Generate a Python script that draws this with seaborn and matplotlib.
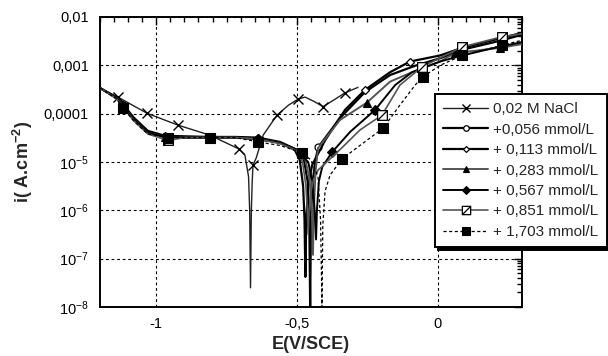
import numpy as np
import pandas as pd
import matplotlib
matplotlib.use("Agg")
import matplotlib.pyplot as plt
from matplotlib.lines import Line2D
from matplotlib.path import Path
from matplotlib.ticker import FixedLocator, MultipleLocator, LogLocator, NullFormatter
import seaborn as sns

# ---------------- data ----------------
labels = ["0,02 M NaCl", "+0,056 mmol/L", "+ 0,113 mmol/L", "+ 0,283 mmol/L",
          "+ 0,567 mmol/L", "+ 0,851 mmol/L", "+ 1,703 mmol/L"]

E_nacl = [-1.20, -1.136, -1.033, -0.923, -0.81, -0.706, -0.685, -0.672, -0.668, -0.665, -0.662,
          -0.659, -0.656, -0.645, -0.62, -0.571, -0.53, -0.496, -0.471, -0.44, -0.407, -0.37,
          -0.329, -0.283]
i_nacl = [3.4e-4, 2.2e-4, 1.02e-4, 5.8e-5, 3.6e-5, 1.86e-5, 1.4e-5, 5.0e-6, 1.0e-6, 2.5e-8, 1.0e-6,
          4.0e-6, 8.7e-6, 1.2e-5, 3.6e-5, 9.3e-5, 1.5e-4, 2.0e-4, 2.2e-4, 1.8e-4, 1.4e-4, 1.9e-4,
          2.7e-4, 3.5e-4]

E_056 = [-1.20, -1.14, -1.12, -1.08, -1.03, -0.97, -0.90, -0.81, -0.72, -0.64, -0.56, -0.50,
         -0.475, -0.462, -0.456, -0.453, -0.450, -0.444, -0.435, -0.425, -0.347, -0.258, -0.169,
         -0.080, 0.009, 0.087, 0.229, 0.30]
i_056 = [3.4e-4, 2.1e-4, 1.5e-4, 7.9e-5, 4.2e-5, 3.4e-5, 3.2e-5, 3.2e-5, 3.2e-5, 3.0e-5, 2.5e-5,
         1.8e-5, 1.1e-5, 4.0e-6, 6.3e-7, 1.0e-8, 7.9e-7, 4.0e-6, 1.0e-5, 2.0e-5, 8.1e-5, 2.8e-4,
         6.3e-4, 9.8e-4, 1.4e-3, 2.1e-3, 3.3e-3, 4.3e-3]

E_113 = [-1.20, -1.14, -1.12, -1.08, -1.03, -0.97, -0.90, -0.81, -0.72, -0.64, -0.56, -0.51,
         -0.49, -0.478, -0.473, -0.470, -0.467, -0.46, -0.446, -0.40, -0.329, -0.258, -0.169,
         -0.098, 0.009, 0.087, 0.229, 0.30]
i_113 = [3.4e-4, 2.1e-4, 1.6e-4, 8.3e-5, 4.4e-5, 3.5e-5, 3.4e-5, 3.3e-5, 3.3e-5, 3.2e-5, 2.6e-5,
         1.9e-5, 1.1e-5, 3.2e-6, 6.3e-7, 4.2e-8, 6.3e-7, 3.2e-6, 8.7e-6, 2.8e-5, 1.2e-4, 3.1e-4,
         7.2e-4, 1.2e-3, 1.6e-3, 2.3e-3, 3.7e-3, 4.7e-3]

E_283 = [-1.20, -1.14, -1.12, -1.08, -1.03, -0.97, -0.90, -0.81, -0.72, -0.64, -0.56, -0.50,
         -0.47, -0.455, -0.447, -0.443, -0.440, -0.434, -0.425, -0.347, -0.251, -0.169, -0.091,
         0.009, 0.062, 0.222, 0.30]
i_283 = [3.4e-4, 2.1e-4, 1.5e-4, 7.6e-5, 4.0e-5, 3.3e-5, 3.2e-5, 3.2e-5, 3.2e-5, 3.0e-5, 2.5e-5,
         1.7e-5, 1.1e-5, 4.5e-6, 1.0e-6, 1.2e-7, 1.0e-6, 6.3e-6, 1.95e-5, 7.4e-5, 1.7e-4, 4.6e-4,
         7.2e-4, 1.2e-3, 1.8e-3, 2.3e-3, 2.75e-3]

E_567 = [-1.20, -1.14, -1.12, -1.08, -1.03, -0.97, -0.90, -0.81, -0.72, -0.64, -0.56, -0.50,
         -0.46, -0.445, -0.437, -0.432, -0.429, -0.422, -0.41, -0.375, -0.311, -0.222, -0.151,
         -0.091, 0.009, 0.087, 0.229, 0.30]
i_567 = [3.4e-4, 2.1e-4, 1.45e-4, 7.6e-5, 4.0e-5, 3.3e-5, 3.2e-5, 3.2e-5, 3.2e-5, 3.0e-5, 2.5e-5,
         1.7e-5, 1.0e-5, 4.0e-6, 1.0e-6, 2.5e-7, 1.0e-6, 4.0e-6, 7.9e-6, 1.6e-5, 4.2e-5, 1.2e-4,
         3.9e-4, 7.2e-4, 1.2e-3, 1.6e-3, 2.5e-3, 3.0e-3]

E_851 = [-1.20, -1.14, -1.12, -1.08, -1.03, -0.958, -0.90, -0.81, -0.72, -0.64, -0.56, -0.50,
         -0.48, -0.468, -0.463, -0.460, -0.457, -0.45, -0.44, -0.425, -0.347, -0.276, -0.198,
         -0.134, -0.055, 0.087, 0.229, 0.30]
i_851 = [3.4e-4, 2.0e-4, 1.4e-4, 7.1e-5, 3.8e-5, 2.8e-5, 3.2e-5, 3.2e-5, 3.2e-5, 3.0e-5, 2.4e-5,
         1.7e-5, 1.0e-5, 3.2e-6, 1.0e-6, 3.2e-7, 1.0e-6, 2.5e-6, 4.5e-6, 6.8e-6, 1.8e-5, 4.6e-5,
         9.3e-5, 3.9e-4, 9.3e-4, 2.4e-3, 3.9e-3, 4.5e-3]

E_1703 = [-1.20, -1.14, -1.118, -1.08, -1.03, -0.958, -0.90, -0.81, -0.72, -0.638, -0.56, -0.482,
          -0.45, -0.425, -0.416, -0.411, -0.408, -0.40, -0.382, -0.340, -0.276, -0.194, -0.134,
          -0.080, -0.052, 0.009, 0.087, 0.229, 0.30]
i_1703 = [3.4e-4, 2.0e-4, 1.3e-4, 7.1e-5, 3.8e-5, 3.2e-5, 3.2e-5, 3.2e-5, 3.2e-5, 2.6e-5, 2.2e-5,
          1.55e-5, 1.1e-5, 5.0e-6, 6.3e-7, 1.0e-8, 5.0e-7, 2.5e-6, 5.4e-6, 1.15e-5, 2.2e-5, 5.0e-5,
          1.5e-4, 3.9e-4, 5.8e-4, 1.0e-3, 1.6e-3, 2.6e-3, 3.3e-3]

x_ticks = [-1.0, -0.5, 0.0]
x_ticklabels = ["-1", "-0,5", "0"]
y_ticks = [1e-8, 1e-7, 1e-6, 1e-5, 1e-4, 1e-3, 1e-2]
y_ticklabels = ["$10^{-8}$", "$10^{-7}$", "$10^{-6}$", "$10^{-5}$", "0,0001", "0,001", "0,01"]

# ---------------- style ----------------
sns.set_style("white")
plt.rcParams["font.family"] = ["Liberation Sans", "DejaVu Sans"]
plt.rcParams["mathtext.default"] = "regular"

half_sq = Path([(-1, -1), (1, -1), (1, 1), (-1, 1), (-1, -1), (-1, -1), (1, 1)],
               [Path.MOVETO, Path.LINETO, Path.LINETO, Path.LINETO, Path.CLOSEPOLY,
                Path.MOVETO, Path.LINETO])

series = [
    (E_nacl, i_nacl, dict(color="#222222", lw=1.0, ls="-", marker="x", ms=7, mfc="none",
                          mew=1.0, idx=[1, 2, 3, 5, 12, 15, 17, 20, 22])),
    (E_056, i_056, dict(color="black", lw=1.6, ls="-", marker="o", ms=5, mfc="white",
                        mew=0.9, idx=[2, 7, 9, 19, 25, 26])),
    (E_113, i_113, dict(color="black", lw=1.6, ls="-", marker="D", ms=4, mfc="white",
                        mew=0.9, idx=[5, 9, 21, 23, 25, 26])),
    (E_283, i_283, dict(color="#555555", lw=1.4, ls="-", marker="^", ms=6, mfc="black",
                        mew=0.8, idx=[5, 9, 20, 24, 25])),
    (E_567, i_567, dict(color="black", lw=1.4, ls="-", marker="D", ms=5, mfc="black",
                        mew=0.8, idx=[2, 7, 9, 19, 21, 25, 26])),
    (E_851, i_851, dict(color="#555555", lw=1.2, ls="-", marker=half_sq, ms=7, mfc="white",
                        mew=0.9, idx=[5, 22, 24, 25, 26])),
    (E_1703, i_1703, dict(color="black", lw=0.9, ls=(0, (2.5, 2)), marker="s", ms=7, mfc="black",
                          mew=0.8, idx=[2, 5, 7, 9, 11, 19, 21, 24, 26, 27])),
]

fig = plt.figure(figsize=(6.08, 3.56), dpi=100)
ax = fig.add_axes([100 / 608, 1 - 307 / 356, 422 / 608, 290 / 356])
ax.set_yscale("log")

handles = []
for (E, I, st), lab in zip(series, labels):
    df = pd.DataFrame({"E": E, "i": I})
    sns.lineplot(data=df, x="E", y="i", ax=ax, estimator=None, sort=False,
                 color=st["color"], lw=st["lw"], linestyle=st["ls"],
                 marker=st["marker"], markersize=st["ms"], markerfacecolor=st["mfc"],
                 markeredgecolor="black", markeredgewidth=st["mew"],
                 markevery=st["idx"], zorder=3)
    handles.append(Line2D([0], [0], color=st["color"], lw=st["lw"], linestyle=st["ls"],
                          marker=st["marker"], markersize=st["ms"] - 1, markerfacecolor=st["mfc"],
                          markeredgecolor="black", markeredgewidth=st["mew"]))

ax.set_xlim(-1.2, 0.3)
ax.set_ylim(1e-8, 1e-2)

ax.xaxis.set_major_locator(FixedLocator(x_ticks))
ax.set_xticklabels(x_ticklabels)
ax.xaxis.set_minor_locator(MultipleLocator(0.05))
ax.yaxis.set_major_locator(FixedLocator(y_ticks))
ax.set_yticklabels(y_ticklabels)
ax.yaxis.set_minor_locator(LogLocator(base=10, subs=np.arange(2, 10), numticks=20))
ax.yaxis.set_minor_formatter(NullFormatter())

ax.tick_params(which="both", direction="in", top=True, right=True, colors="black",
               labelsize=10.5, width=1.0)
ax.tick_params(which="major", length=6)
ax.tick_params(which="minor", length=3.5)
ax.tick_params(axis="y", which="major", pad=8)
ax.tick_params(axis="x", which="major", pad=7)

ax.grid(True, which="major", color="black", linestyle=(0, (2.5, 2.5)), linewidth=0.8)
for sp in ax.spines.values():
    sp.set_color("black")
    sp.set_linewidth(1.4)

ax.set_xlabel("E(V/SCE)", fontsize=13, fontweight="bold", labelpad=4)
ax.set_ylabel("i( A.cm$^{-2}$)", fontsize=13, fontweight="bold", labelpad=6)

leg = fig.legend(handles=handles, labels=labels, loc="upper left",
                 bbox_to_anchor=(435 / 608, 1 - 94 / 356), fontsize=11,
                 frameon=True, fancybox=False, shadow={"color": "black", "alpha": 1.0},
                 handlelength=2.9, handletextpad=0.35, labelspacing=0.42,
                 borderpad=0.55, borderaxespad=0.0)
leg.get_frame().set_edgecolor("black")
leg.get_frame().set_linewidth(1.4)
leg.get_frame().set_facecolor("white")
leg.set_zorder(10)

fig.savefig("out.png", dpi=100)
